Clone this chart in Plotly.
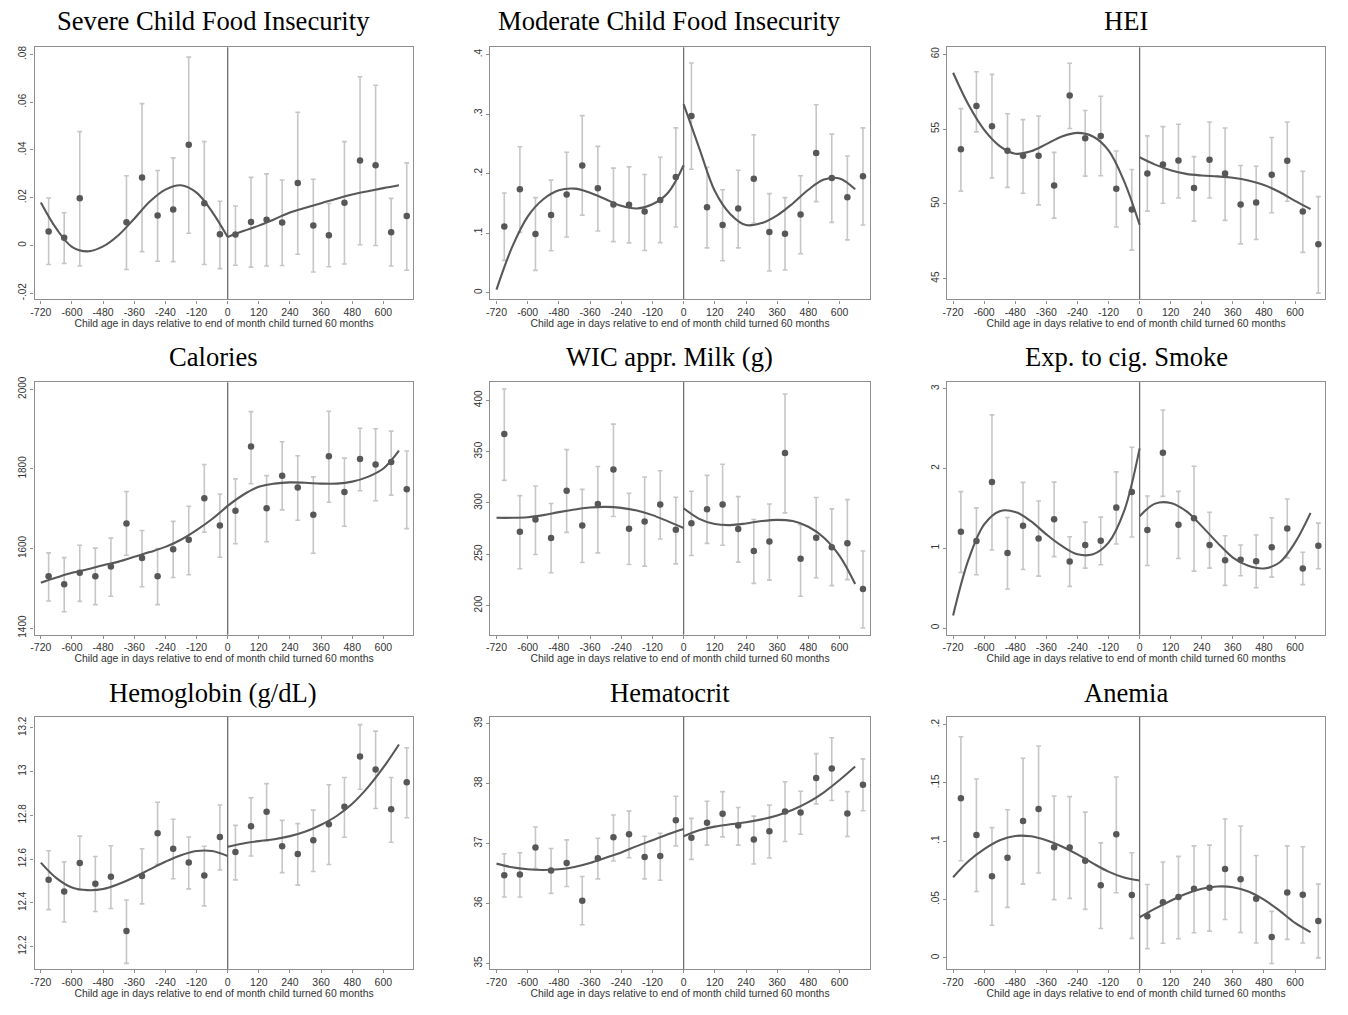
import plotly.graph_objects as go

# ---------------- data ----------------
BIN_X = [-690, -630, -570, -510, -450, -390, -330, -270, -210, -150, -90, -30,
         30, 90, 150, 210, 270, 330, 390, 450, 510, 570, 630, 690]
FIT_X_LEFT = [-720, -660, -600, -540, -480, -420, -360, -300, -240, -180, -120, -60, 0]
FIT_X_RIGHT = [0, 60, 120, 180, 240, 300, 360, 420, 480, 540, 600, 660]
CUTOFF = 0
X_TICKS = [-720, -600, -480, -360, -240, -120, 0, 120, 240, 360, 480, 600]
X_TICK_TEXT = ["-720", "-600", "-480", "-360", "-240", "-120", "0", "120", "240", "360", "480", "600"]
X_TITLE = "Child age in days relative to end of month child turned 60 months"

TITLES = ["Severe Child Food Insecurity", "Moderate Child Food Insecurity", "HEI",
          "Calories", "WIC appr. Milk (g)", "Exp. to cig. Smoke",
          "Hemoglobin (g/dL)", "Hematocrit", "Anemia"]

# 1 Severe child food insecurity
SEV_MEAN = [0.0058, 0.0032, 0.0198, None, None, 0.0097, 0.0285, 0.0125, 0.0151, 0.0422, 0.0177, 0.0047,
            0.0046, 0.0098, 0.0108, 0.0096, 0.0262, 0.0084, 0.0043, 0.0179, 0.0356, 0.0336, 0.0055, 0.0123]
SEV_HI = [0.0199, 0.0137, 0.0477, None, None, 0.0292, 0.0594, 0.0314, 0.0367, 0.0789, 0.0435, 0.0185,
          0.0165, 0.0285, 0.0300, 0.0274, 0.0558, 0.0277, 0.0176, 0.0435, 0.0707, 0.0671, 0.0197, 0.0346]
SEV_LO = [-0.0080, -0.0075, -0.0086, None, None, -0.0101, -0.0026, -0.0066, -0.0068, 0.0051, -0.0080, -0.0097,
          -0.0083, -0.0091, -0.0086, -0.0084, -0.0037, -0.0111, -0.0089, -0.0078, 0.0003, 0.0000, -0.0086, -0.0104]
SEV_FIT_L = [0.0180, 0.0070, -0.0006, -0.0025, -0.0004, 0.0044, 0.0112, 0.0184, 0.0234, 0.0252, 0.0221, 0.0141, 0.0035]
SEV_FIT_R = [0.0035, 0.0060, 0.0083, 0.0110, 0.0138, 0.0158, 0.0177, 0.0196, 0.0213, 0.0227, 0.0240, 0.0252]
SEV_YTICKS = [-0.02, 0, 0.02, 0.04, 0.06, 0.08]
SEV_YTEXT = ["-.02", "0", ".02", ".04", ".06", ".08"]

# 2 Moderate child food insecurity
MOD_MEAN = [0.1115, 0.1737, 0.0988, 0.1304, 0.1648, 0.2136, 0.1753, 0.1481, 0.1476, 0.1365, 0.1559, 0.1942,
            0.2968, 0.1437, 0.1137, 0.1415, 0.1914, 0.1021, 0.0993, 0.1315, 0.2347, 0.1925, 0.1603, 0.1958]
MOD_HI = [0.1675, 0.2452, 0.1598, 0.1892, 0.2358, 0.2974, 0.2458, 0.2092, 0.2114, 0.1986, 0.2275, 0.2768,
          0.3856, 0.2108, 0.1731, 0.2058, 0.2652, 0.1664, 0.1598, 0.1964, 0.3157, 0.2663, 0.2297, 0.2768]
MOD_LO = [0.0544, 0.1015, 0.0377, 0.0705, 0.0938, 0.1304, 0.1037, 0.0860, 0.0838, 0.0710, 0.0843, 0.1104,
          0.2075, 0.0755, 0.0538, 0.0755, 0.1171, 0.0366, 0.0383, 0.0655, 0.1531, 0.1182, 0.0888, 0.1137]
MOD_FIT_L = [0.0055, 0.0766, 0.1280, 0.1570, 0.1720, 0.1748, 0.1680, 0.1570, 0.1460, 0.1415, 0.1487, 0.1680, 0.2141]
MOD_FIT_R = [0.3168, 0.2430, 0.1709, 0.1320, 0.1137, 0.1170, 0.1300, 0.1500, 0.1730, 0.1900, 0.1920, 0.1737]
MOD_YTICKS = [0, 0.1, 0.2, 0.3, 0.4]
MOD_YTEXT = ["0", ".1", ".2", ".3", ".4"]

# 3 HEI
HEI_MEAN = [53.64, 56.53, 55.18, 53.55, 53.22, 53.22, 51.23, 57.24, 54.39, 54.54, 51.01, 49.62,
            52.03, 52.62, 52.89, 51.05, 52.95, 52.03, 49.95, 50.08, 51.94, 52.87, 49.49, 47.30]
HEI_HI = [56.36, 58.83, 58.65, 56.02, 55.63, 55.87, 53.44, 59.40, 56.24, 57.19, 53.53, 52.29,
          54.54, 55.16, 55.32, 53.15, 55.47, 55.07, 52.56, 52.51, 54.43, 55.47, 52.18, 50.48]
HEI_LO = [50.85, 54.81, 51.72, 51.10, 50.70, 49.93, 49.04, 55.03, 51.85, 51.87, 48.45, 46.90,
          49.51, 50.04, 50.39, 48.84, 50.39, 48.89, 47.32, 47.61, 49.40, 50.17, 46.75, 44.03]
HEI_FIT_L = [58.76, 56.60, 54.94, 53.86, 53.35, 53.51, 53.99, 54.50, 54.74, 54.50, 53.57, 51.52, 48.60]
HEI_FIT_R = [53.11, 52.62, 52.25, 52.00, 51.89, 51.83, 51.74, 51.56, 51.25, 50.79, 50.19, 49.64]
HEI_YTICKS = [45, 50, 55, 60]
HEI_YTEXT = ["45", "50", "55", "60"]

# 4 Calories
CAL_MEAN = [1530, 1510, 1539, 1530, 1555, 1663, 1576, 1530, 1598, 1622, 1726, 1658,
            1695, 1856, 1701, 1783, 1753, 1685, 1832, 1742, 1825, 1811, 1817, 1749]
CAL_HI = [1589, 1577, 1608, 1601, 1626, 1743, 1645, 1600, 1668, 1706, 1811, 1737,
          1775, 1944, 1783, 1868, 1833, 1780, 1945, 1827, 1902, 1901, 1895, 1845]
CAL_LO = [1468, 1441, 1467, 1459, 1480, 1583, 1504, 1459, 1527, 1534, 1641, 1578,
          1612, 1763, 1617, 1697, 1671, 1588, 1716, 1656, 1745, 1720, 1734, 1650]
CAL_FIT_L = [1514, 1527, 1539, 1548, 1558, 1567, 1579, 1591, 1604, 1622, 1646, 1674, 1707]
CAL_FIT_R = [1707, 1735, 1755, 1763, 1766, 1765, 1763, 1763, 1768, 1780, 1801, 1846]
CAL_YTICKS = [1400, 1600, 1800, 2000]
CAL_YTEXT = ["1400", "1600", "1800", "2000"]

# 5 WIC approved milk
MILK_MEAN = [367.1, 272.0, 283.9, 265.8, 311.9, 278.1, 299.0, 332.6, 274.8, 281.9, 298.4, 273.9,
             280.3, 293.9, 298.4, 274.5, 253.2, 262.3, 348.7, 245.5, 266.1, 256.8, 260.6, 216.1]
MILK_HI = [411.0, 307.1, 316.5, 299.4, 351.9, 313.2, 335.5, 376.8, 309.4, 325.2, 331.3, 305.5,
           311.3, 326.8, 337.7, 306.1, 283.9, 299.0, 406.1, 278.7, 305.2, 294.2, 303.2, 253.2]
MILK_LO = [322.0, 235.8, 249.7, 231.9, 271.3, 241.9, 251.3, 286.8, 240.0, 238.4, 264.8, 240.6,
           248.7, 260.6, 258.7, 242.3, 221.6, 224.8, 290.3, 209.0, 227.1, 219.4, 225.2, 178.1]
MILK_FIT_L = [285.5, 285.5, 286.1, 288.1, 291.0, 293.5, 295.5, 296.1, 295.2, 292.6, 288.1, 282.0, 275.5]
MILK_FIT_R = [294.8, 284.5, 279.4, 278.4, 280.0, 282.3, 283.5, 282.3, 276.8, 266.1, 248.4, 221.0]
MILK_YTICKS = [200, 250, 300, 350, 400]
MILK_YTEXT = ["200", "250", "300", "350", "400"]

# 6 Exposure to cigarette smoke
SMOKE_MEAN = [1.207, 1.091, 1.830, 0.942, 1.282, 1.124, 1.365, 0.834, 1.041, 1.095, 1.510, 1.705,
              1.228, 2.199, 1.295, 1.378, 1.041, 0.851, 0.855, 0.838, 1.012, 1.249, 0.747, 1.033]
SMOKE_HI = [1.710, 1.506, 2.672, 1.386, 1.826, 1.593, 1.830, 1.145, 1.328, 1.390, 1.958, 2.266,
            1.656, 2.734, 1.714, 2.029, 1.452, 1.158, 1.041, 1.166, 1.382, 1.618, 0.950, 1.315]
SMOKE_LO = [0.697, 0.668, 0.979, 0.490, 0.734, 0.651, 0.896, 0.523, 0.751, 0.793, 1.054, 1.141,
            0.784, 1.651, 0.871, 0.714, 0.751, 0.535, 0.656, 0.506, 0.639, 0.880, 0.544, 0.743]
SMOKE_FIT_L = [0.158, 0.863, 1.299, 1.465, 1.456, 1.340, 1.174, 1.029, 0.925, 0.925, 1.071, 1.465, 2.253]
SMOKE_FIT_R = [1.402, 1.560, 1.568, 1.465, 1.278, 1.071, 0.884, 0.780, 0.747, 0.822, 1.071, 1.444]
SMOKE_YTICKS = [0, 1, 2, 3]
SMOKE_YTEXT = ["0", "1", "2", "3"]

# 7 Hemoglobin
HGB_MEAN = [12.505, 12.452, 12.582, 12.487, 12.519, 12.271, 12.523, 12.718, 12.647, 12.584, 12.525, 12.701,
            12.632, 12.750, 12.816, 12.659, 12.623, 12.686, 12.759, 12.839, 13.069, 13.010, 12.828, 12.951]
HGB_HI = [12.638, 12.588, 12.705, 12.612, 12.661, 12.413, 12.647, 12.860, 12.782, 12.701, 12.659, 12.847,
          12.754, 12.880, 12.945, 12.777, 12.762, 12.824, 12.940, 12.973, 13.215, 13.185, 12.973, 13.109]
HGB_LO = [12.369, 12.312, 12.458, 12.360, 12.374, 12.123, 12.395, 12.576, 12.510, 12.464, 12.386, 12.550,
          12.505, 12.614, 12.683, 12.538, 12.481, 12.543, 12.575, 12.700, 12.919, 12.831, 12.677, 12.789]
HGB_FIT_L = [12.584, 12.513, 12.470, 12.458, 12.463, 12.486, 12.517, 12.553, 12.588, 12.618, 12.637, 12.637, 12.614]
HGB_FIT_R = [12.656, 12.671, 12.682, 12.691, 12.705, 12.726, 12.757, 12.797, 12.853, 12.928, 13.019, 13.124]
HGB_YTICKS = [12.2, 12.4, 12.6, 12.8, 13.0, 13.2]
HGB_YTEXT = ["12.2", "12.4", "12.6", "12.8", "13", "13.2"]

# 8 Hematocrit
HCT_MEAN = [36.471, 36.482, 36.934, 36.548, 36.675, 36.047, 36.752, 37.105, 37.154, 36.774, 36.791, 37.386,
            37.094, 37.347, 37.496, 37.298, 37.066, 37.204, 37.534, 37.518, 38.091, 38.251, 37.501, 37.981]
HCT_HI = [36.829, 36.846, 37.275, 36.917, 37.061, 36.449, 37.088, 37.474, 37.540, 37.121, 37.171, 37.788,
          37.419, 37.705, 37.865, 37.601, 37.457, 37.639, 38.030, 37.870, 38.499, 38.763, 37.865, 38.410]
HCT_LO = [36.107, 36.107, 36.581, 36.168, 36.284, 35.645, 36.410, 36.708, 36.763, 36.410, 36.388, 36.961,
          36.736, 36.972, 37.110, 36.972, 36.658, 36.758, 37.033, 37.154, 37.661, 37.716, 37.116, 37.545]
HCT_FIT_L = [36.664, 36.603, 36.570, 36.559, 36.570, 36.609, 36.675, 36.763, 36.851, 36.956, 37.055, 37.154, 37.242]
HCT_FIT_R = [37.121, 37.220, 37.281, 37.320, 37.353, 37.402, 37.468, 37.562, 37.689, 37.854, 38.058, 38.284]
HCT_YTICKS = [35, 36, 37, 38, 39]
HCT_YTEXT = ["35", "36", "37", "38", "39"]

# 9 Anemia
ANEM_MEAN = [0.1368, 0.1054, 0.0700, 0.0858, 0.1173, 0.1275, 0.0949, 0.0946, 0.0833, 0.0623, 0.1059, 0.0538,
             0.0357, 0.0476, 0.0521, 0.0592, 0.0601, 0.0762, 0.0674, 0.0507, 0.0178, 0.0561, 0.0541, 0.0317]
ANEM_HI = [0.1895, 0.1533, 0.1116, 0.1269, 0.1711, 0.1816, 0.1388, 0.1382, 0.1249, 0.0986, 0.1550, 0.0901,
           0.0629, 0.0822, 0.0870, 0.0960, 0.0966, 0.1190, 0.1130, 0.0878, 0.0399, 0.0960, 0.0952, 0.0632]
ANEM_LO = [0.0833, 0.0569, 0.0280, 0.0433, 0.0632, 0.0728, 0.0499, 0.0510, 0.0416, 0.0252, 0.0558, 0.0167,
           0.0079, 0.0125, 0.0164, 0.0215, 0.0229, 0.0329, 0.0218, 0.0127, -0.0048, 0.0159, 0.0127, 0.0000]
ANEM_FIT_L = [0.0691, 0.0830, 0.0932, 0.1008, 0.1045, 0.1042, 0.1008, 0.0955, 0.0887, 0.0810, 0.0739, 0.0688, 0.0663]
ANEM_FIT_R = [0.0348, 0.0422, 0.0490, 0.0550, 0.0592, 0.0612, 0.0606, 0.0569, 0.0499, 0.0405, 0.0300, 0.0221]
ANEM_YTICKS = [0, 0.05, 0.1, 0.15, 0.2]
ANEM_YTEXT = ["0", ".05", ".1", ".15", ".2"]

PANEL_DATA = [
    (SEV_MEAN, SEV_LO, SEV_HI, SEV_FIT_L, SEV_FIT_R, SEV_YTICKS, SEV_YTEXT),
    (MOD_MEAN, MOD_LO, MOD_HI, MOD_FIT_L, MOD_FIT_R, MOD_YTICKS, MOD_YTEXT),
    (HEI_MEAN, HEI_LO, HEI_HI, HEI_FIT_L, HEI_FIT_R, HEI_YTICKS, HEI_YTEXT),
    (CAL_MEAN, CAL_LO, CAL_HI, CAL_FIT_L, CAL_FIT_R, CAL_YTICKS, CAL_YTEXT),
    (MILK_MEAN, MILK_LO, MILK_HI, MILK_FIT_L, MILK_FIT_R, MILK_YTICKS, MILK_YTEXT),
    (SMOKE_MEAN, SMOKE_LO, SMOKE_HI, SMOKE_FIT_L, SMOKE_FIT_R, SMOKE_YTICKS, SMOKE_YTEXT),
    (HGB_MEAN, HGB_LO, HGB_HI, HGB_FIT_L, HGB_FIT_R, HGB_YTICKS, HGB_YTEXT),
    (HCT_MEAN, HCT_LO, HCT_HI, HCT_FIT_L, HCT_FIT_R, HCT_YTICKS, HCT_YTEXT),
    (ANEM_MEAN, ANEM_LO, ANEM_HI, ANEM_FIT_L, ANEM_FIT_R, ANEM_YTICKS, ANEM_YTEXT),
]

# ---------------- layout / style ----------------
W, H = 1348, 1015
COL_PX = [(30.7, 410.7), (487.7, 868.3), (945.7, 1325.0)]
ROW_PX = [(41.7, 296.0), (379.5, 634.3), (717.3, 971.7)]
TITLE_X_PX = [210, 667.5, 1125.7]
TITLE_Y_PX = [15.5, 354.5, 693]
Y_RANGES = [(-0.0226, 0.083), (-0.011, 0.412), (43.61, 60.46),
            (1383.4, 2018.0), (171.6, 417.7), (-0.083, 3.083),
            (12.097, 13.25), (34.906, 39.11), (-0.0096, 0.2065)]
X_RANGE = (-744, 716)

PT_COLOR = "#575757"
BAR_COLOR = "#c6c6c6"
FIT_COLOR = "#585858"
FRAME_COLOR = "#8e8e8e"
TICK_FONT = dict(family="Liberation Sans, Arial, sans-serif", size=10.5, color="#333333")
YTICK_FONT = dict(family="Liberation Sans, Arial, sans-serif", size=10, color="#333333")
TITLE_FONT = dict(family="Liberation Serif, Times New Roman, serif", size=26.6, color="#000000")

fig = go.Figure()
layout_axes = {}
annotations = []
shapes = []

for i, (mean, lo, hi, fit_l, fit_r, yt, ytt) in enumerate(PANEL_DATA):
    k = i + 1
    r, c = divmod(i, 3)
    xs = "x" if k == 1 else f"x{k}"
    ys = "y" if k == 1 else f"y{k}"
    plus = [None if (m is None) else h - m for m, h in zip(mean, hi)]
    minus = [None if (m is None) else m - l for m, l in zip(mean, lo)]

    fig.add_trace(go.Scatter(
        x=BIN_X, y=mean, mode="markers", xaxis=xs, yaxis=ys,
        marker=dict(size=6.5, color=PT_COLOR),
        error_y=dict(type="data", symmetric=False, array=plus, arrayminus=minus,
                     color=BAR_COLOR, thickness=1.6, width=2.4),
        showlegend=False, hoverinfo="skip"))
    for fx, fy in ((FIT_X_LEFT, fit_l), (FIT_X_RIGHT, fit_r)):
        fig.add_trace(go.Scatter(
            x=fx, y=fy, mode="lines", xaxis=xs, yaxis=ys,
            line=dict(color=FIT_COLOR, width=2.1, shape="spline", smoothing=1.0),
            showlegend=False, hoverinfo="skip"))

    x0, x1 = COL_PX[c]
    y0, y1 = ROW_PX[r]
    xname = "xaxis" if k == 1 else f"xaxis{k}"
    yname = "yaxis" if k == 1 else f"yaxis{k}"
    layout_axes[xname] = dict(
        domain=[x0 / W, x1 / W], range=list(X_RANGE), anchor=ys,
        tickmode="array", tickvals=X_TICKS, ticktext=X_TICK_TEXT,
        ticks="outside", ticklen=3, tickwidth=1, tickcolor=FRAME_COLOR,
        showline=True, mirror=True, linecolor=FRAME_COLOR, linewidth=1.4,
        showgrid=False, zeroline=False, tickfont=TICK_FONT,
        title=dict(text=X_TITLE, font=dict(family=TICK_FONT["family"], size=10.4, color="#333333"),
                   standoff=1))
    layout_axes[yname] = dict(
        domain=[1 - y1 / H, 1 - y0 / H], range=list(Y_RANGES[i]), anchor=xs,
        tickmode="array", tickvals=yt, ticktext=ytt, tickangle=-90,
        ticks="outside", ticklen=3, tickwidth=1, tickcolor=FRAME_COLOR,
        showline=True, mirror=True, linecolor=FRAME_COLOR, linewidth=1.4,
        showgrid=False, zeroline=False, tickfont=YTICK_FONT)

    shapes.append(dict(type="line", xref=xs, yref=f"{ys} domain",
                       x0=CUTOFF, x1=CUTOFF, y0=0, y1=1,
                       line=dict(color="#6e6e6e", width=1.3), layer="below"))
    annotations.append(dict(text=TITLES[i], x=TITLE_X_PX[c] / W, y=1 - TITLE_Y_PX[r] / H,
                            xref="paper", yref="paper", xanchor="center", yanchor="middle",
                            showarrow=False, font=TITLE_FONT))

fig.update_layout(
    width=W, height=H, margin=dict(l=0, r=0, t=0, b=0),
    paper_bgcolor="white", plot_bgcolor="white",
    annotations=annotations, shapes=shapes, **layout_axes)

fig.write_html("out.html", config={"displayModeBar": False},
               post_script="document.body.style.margin='0';document.body.style.overflow='hidden';")
